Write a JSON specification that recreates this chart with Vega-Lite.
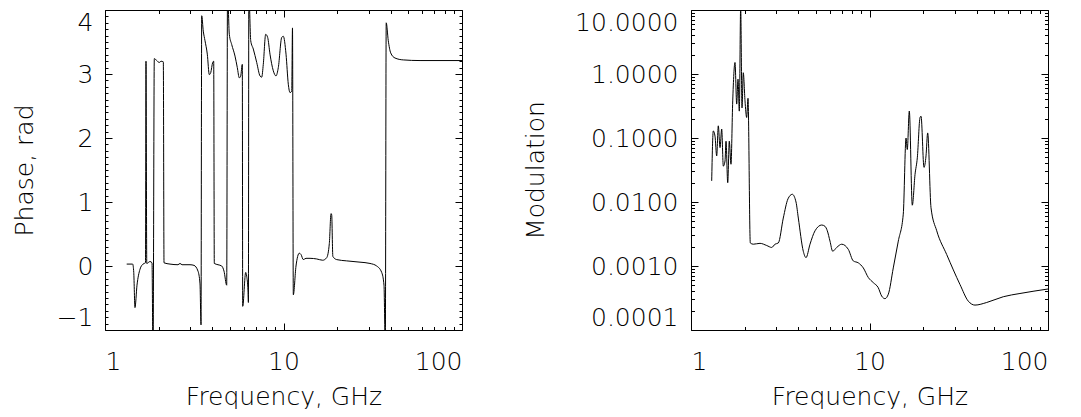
{
  "$schema": "https://vega.github.io/schema/vega-lite/v6.json",
  "padding": {"left": 12, "top": 9, "right": 0, "bottom": 0},
  "bounds": "flush",
  "spacing": 229,
  "datasets": {
    "phase": [
      {"f": 1.323, "p": 0.03}, {"f": 1.429, "p": 0.03}, {"f": 1.449, "p": -0.1}, {"f": 1.472, "p": -0.65},
      {"f": 1.511, "p": -0.3}, {"f": 1.571, "p": -0.05}, {"f": 1.633, "p": 0.03}, {"f": 1.686, "p": 0.05},
      {"f": 1.697, "p": 3.2}, {"f": 1.714, "p": 0.04}, {"f": 1.787, "p": 0.07}, {"f": 1.834, "p": 0.05},
      {"f": 1.858, "p": -1.5}, {"f": 1.889, "p": 3.24}, {"f": 1.949, "p": 3.21}, {"f": 2.015, "p": 3.18},
      {"f": 2.06, "p": 3.2}, {"f": 2.122, "p": 3.19}, {"f": 2.141, "p": 0.05}, {"f": 2.313, "p": 0.03},
      {"f": 2.564, "p": 0.02}, {"f": 2.632, "p": 0.04}, {"f": 2.701, "p": 0.02}, {"f": 2.994, "p": 0.02},
      {"f": 3.152, "p": 0.01}, {"f": 3.319, "p": -0.08}, {"f": 3.406, "p": -0.28}, {"f": 3.451, "p": -0.92},
      {"f": 3.481, "p": 3.91}, {"f": 3.553, "p": 3.67}, {"f": 3.633, "p": 3.52}, {"f": 3.742, "p": 3.31},
      {"f": 3.84, "p": 2.99}, {"f": 3.91, "p": 3.02}, {"f": 4.012, "p": 3.18}, {"f": 4.064, "p": 3.2},
      {"f": 4.096, "p": 0.04}, {"f": 4.296, "p": 0.02}, {"f": 4.507, "p": 0.0}, {"f": 4.642, "p": -0.08},
      {"f": 4.806, "p": -0.3}, {"f": 4.857, "p": 4.3}, {"f": 4.971, "p": 3.62}, {"f": 5.127, "p": 3.46},
      {"f": 5.35, "p": 3.28}, {"f": 5.511, "p": 3.1}, {"f": 5.655, "p": 2.94}, {"f": 5.758, "p": 2.97},
      {"f": 5.878, "p": 3.15}, {"f": 5.908, "p": -0.63}, {"f": 6.141, "p": -0.1}, {"f": 6.22, "p": -0.16},
      {"f": 6.326, "p": -0.39}, {"f": 6.359, "p": -0.57}, {"f": 6.393, "p": 4.3}, {"f": 6.552, "p": 3.52},
      {"f": 6.774, "p": 3.39}, {"f": 7.078, "p": 3.18}, {"f": 7.385, "p": 2.97}, {"f": 7.549, "p": 2.95},
      {"f": 7.705, "p": 3.15}, {"f": 7.948, "p": 3.62}, {"f": 8.155, "p": 3.57}, {"f": 8.401, "p": 3.31},
      {"f": 8.767, "p": 3.05}, {"f": 9.078, "p": 2.97}, {"f": 9.352, "p": 3.1}, {"f": 9.77, "p": 3.57},
      {"f": 9.975, "p": 3.59}, {"f": 10.33, "p": 3.31}, {"f": 10.64, "p": 2.84}, {"f": 10.88, "p": 2.71},
      {"f": 11.12, "p": 2.73}, {"f": 11.23, "p": 3.72}, {"f": 11.35, "p": -0.45}, {"f": 11.75, "p": 0.0},
      {"f": 12.26, "p": 0.2}, {"f": 12.53, "p": 0.18}, {"f": 12.91, "p": 0.1}, {"f": 13.37, "p": 0.12},
      {"f": 14.08, "p": 0.12}, {"f": 15.35, "p": 0.11}, {"f": 16.58, "p": 0.09}, {"f": 17.46, "p": 0.13},
      {"f": 18.06, "p": 0.35}, {"f": 18.46, "p": 0.82}, {"f": 18.62, "p": 0.8}, {"f": 18.9, "p": 0.15},
      {"f": 19.86, "p": 0.1}, {"f": 22.59, "p": 0.08}, {"f": 26.83, "p": 0.06}, {"f": 30.52, "p": 0.04},
      {"f": 33.28, "p": 0.0}, {"f": 35.49, "p": -0.1}, {"f": 36.56, "p": -0.3}, {"f": 37.18, "p": -1.3},
      {"f": 37.62, "p": 3.8}, {"f": 38.64, "p": 3.52}, {"f": 39.86, "p": 3.33}, {"f": 42.13, "p": 3.25},
      {"f": 46.9, "p": 3.22}, {"f": 58.19, "p": 3.21}, {"f": 100, "p": 3.21}
    ],
    "modulation": [
      {"f": 1.306, "m": 0.0214}, {"f": 1.333, "m": 0.129}, {"f": 1.363, "m": 0.107}, {"f": 1.393, "m": 0.0525},
      {"f": 1.422, "m": 0.155}, {"f": 1.454, "m": 0.0708}, {"f": 1.486, "m": 0.138}, {"f": 1.517, "m": 0.0363},
      {"f": 1.551, "m": 0.0437}, {"f": 1.571, "m": 0.0891}, {"f": 1.606, "m": 0.02}, {"f": 1.639, "m": 0.0891},
      {"f": 1.675, "m": 0.0389}, {"f": 1.713, "m": 0.38}, {"f": 1.764, "m": 1.514}, {"f": 1.803, "m": 0.339},
      {"f": 1.834, "m": 0.832}, {"f": 1.865, "m": 0.263}, {"f": 1.898, "m": 11.2}, {"f": 1.931, "m": 0.295},
      {"f": 1.963, "m": 1.047}, {"f": 2.007, "m": 0.38}, {"f": 2.051, "m": 0.209}, {"f": 2.086, "m": 0.417},
      {"f": 2.149, "m": 0.00229}, {"f": 2.234, "m": 0.00219}, {"f": 2.436, "m": 0.00226}, {"f": 2.656, "m": 0.00209},
      {"f": 2.832, "m": 0.00195}, {"f": 2.955, "m": 0.00219}, {"f": 3.084, "m": 0.00229}, {"f": 3.289, "m": 0.00562},
      {"f": 3.494, "m": 0.0112}, {"f": 3.694, "m": 0.0132}, {"f": 3.875, "m": 0.01}, {"f": 3.992, "m": 0.00562},
      {"f": 4.257, "m": 0.0017}, {"f": 4.409, "m": 0.00135}, {"f": 4.642, "m": 0.00219}, {"f": 4.952, "m": 0.00355},
      {"f": 5.398, "m": 0.00437}, {"f": 5.633, "m": 0.00417}, {"f": 5.802, "m": 0.00355}, {"f": 6.007, "m": 0.00245},
      {"f": 6.22, "m": 0.0017}, {"f": 6.55, "m": 0.00195}, {"f": 6.988, "m": 0.00219}, {"f": 7.607, "m": 0.00182},
      {"f": 8.113, "m": 0.0012}, {"f": 8.656, "m": 0.00112}, {"f": 9.233, "m": 0.000933}, {"f": 9.847, "m": 0.000661},
      {"f": 10.5, "m": 0.00055}, {"f": 11.2, "m": 0.000457}, {"f": 11.7, "m": 0.000339}, {"f": 12.21, "m": 0.000309},
      {"f": 12.75, "m": 0.000363}, {"f": 13.59, "m": 0.000933}, {"f": 14.5, "m": 0.00245}, {"f": 15.46, "m": 0.00646},
      {"f": 16.02, "m": 0.1}, {"f": 16.28, "m": 0.0661}, {"f": 16.71, "m": 0.263}, {"f": 17.37, "m": 0.00891},
      {"f": 17.99, "m": 0.0269}, {"f": 18.53, "m": 0.049}, {"f": 19.19, "m": 0.209}, {"f": 19.44, "m": 0.219},
      {"f": 20.2, "m": 0.0347}, {"f": 20.73, "m": 0.0525}, {"f": 21.18, "m": 0.12}, {"f": 22.11, "m": 0.00813},
      {"f": 23.8, "m": 0.00355}, {"f": 27.07, "m": 0.00151}, {"f": 32.14, "m": 0.000513}, {"f": 35.78, "m": 0.000282},
      {"f": 39.0, "m": 0.000245}, {"f": 45.36, "m": 0.000269}, {"f": 56.17, "m": 0.000331}, {"f": 69.66, "m": 0.000372},
      {"f": 100, "m": 0.000437}
    ]
  },
  "hconcat": [
    {
      "width": 357,
      "height": 320,
      "data": {"name": "phase"},
      "resolve": {"axis": {"x": "independent", "y": "independent"}},
      "layer": [
        {
          "mark": {"type": "line", "color": "#000", "strokeWidth": 1, "clip": true, "interpolate": "monotone"},
          "encoding": {
            "x": {"field": "f", "type": "quantitative",
                  "scale": {"type": "log", "domain": [1, 100], "nice": false},
                  "axis": {"orient": "bottom", "values": [1, 10, 100], "format": "d", "tickSize": -7,
                           "labelPadding": 46, "labelBaseline": "alphabetic",
                           "title": "Frequency, GHz", "titleX": 178.5, "titleY": 74, "titleBaseline": "alphabetic"}},
            "y": {"field": "p", "type": "quantitative",
                  "scale": {"domain": [-1, 4], "nice": false, "zero": false},
                  "axis": {"orient": "left", "values": [-1, 0, 1, 2, 3, 4], "format": "d", "tickSize": -7,
                           "labelPadding": 19, "labelFlush": true,
                           "title": "Phase, rad", "titleX": -73, "titleY": 160, "titleAngle": -90, "titleBaseline": "alphabetic"}}
          }
        },
        {
          "mark": {"type": "line", "strokeOpacity": 0, "clip": true},
          "encoding": {
            "x": {"field": "f", "type": "quantitative",
                  "scale": {"type": "log", "domain": [1, 100], "nice": false},
                  "axis": {"orient": "bottom", "values": [2, 3, 4, 5, 6, 7, 8, 9, 20, 30, 40, 50, 60, 70, 80, 90],
                           "tickSize": -3.5, "labels": false, "domain": false, "title": null}},
            "y": {"field": "p", "type": "quantitative",
                  "scale": {"domain": [-1, 4], "nice": false, "zero": false},
                  "axis": {"orient": "left", "values": [-0.9, -0.8, -0.7, -0.6, -0.5, -0.4, -0.3, -0.2, -0.1, 0.1, 0.2, 0.3, 0.4, 0.5, 0.6, 0.7, 0.8, 0.9, 1.1, 1.2, 1.3, 1.4, 1.5, 1.6, 1.7, 1.8, 1.9, 2.1, 2.2, 2.3, 2.4, 2.5, 2.6, 2.7, 2.8, 2.9, 3.1, 3.2, 3.3, 3.4, 3.5, 3.6, 3.7, 3.8, 3.9],
                           "tickSize": -3, "labels": false, "domain": false, "title": null}}
          }
        },
        {
          "mark": {"type": "line", "strokeOpacity": 0, "clip": true},
          "encoding": {
            "x": {"field": "f", "type": "quantitative",
                  "scale": {"type": "log", "domain": [1, 100], "nice": false},
                  "axis": {"orient": "top", "values": [1, 10, 100], "tickSize": -7, "labels": false, "title": null}},
            "y": {"field": "p", "type": "quantitative",
                  "scale": {"domain": [-1, 4], "nice": false, "zero": false},
                  "axis": {"orient": "right", "values": [-1, 0, 1, 2, 3, 4], "tickSize": -7, "labels": false, "title": null}}
          }
        },
        {
          "mark": {"type": "line", "strokeOpacity": 0, "clip": true},
          "encoding": {
            "x": {"field": "f", "type": "quantitative",
                  "scale": {"type": "log", "domain": [1, 100], "nice": false},
                  "axis": {"orient": "top", "values": [2, 3, 4, 5, 6, 7, 8, 9, 20, 30, 40, 50, 60, 70, 80, 90],
                           "tickSize": -3.5, "labels": false, "domain": false, "title": null}},
            "y": {"field": "p", "type": "quantitative",
                  "scale": {"domain": [-1, 4], "nice": false, "zero": false},
                  "axis": {"orient": "right", "values": [-0.9, -0.8, -0.7, -0.6, -0.5, -0.4, -0.3, -0.2, -0.1, 0.1, 0.2, 0.3, 0.4, 0.5, 0.6, 0.7, 0.8, 0.9, 1.1, 1.2, 1.3, 1.4, 1.5, 1.6, 1.7, 1.8, 1.9, 2.1, 2.2, 2.3, 2.4, 2.5, 2.6, 2.7, 2.8, 2.9, 3.1, 3.2, 3.3, 3.4, 3.5, 3.6, 3.7, 3.8, 3.9],
                           "tickSize": -3, "labels": false, "domain": false, "title": null}}
          }
        }
      ]
    },
    {
      "width": 357,
      "height": 320,
      "data": {"name": "modulation"},
      "resolve": {"axis": {"x": "independent", "y": "independent"}},
      "layer": [
        {
          "mark": {"type": "line", "color": "#000", "strokeWidth": 1, "clip": true, "interpolate": "monotone"},
          "encoding": {
            "x": {"field": "f", "type": "quantitative",
                  "scale": {"type": "log", "domain": [1, 100], "nice": false},
                  "axis": {"orient": "bottom", "values": [1, 10, 100], "format": "d", "tickSize": -7,
                           "labelPadding": 46, "labelBaseline": "alphabetic",
                           "title": "Frequency, GHz", "titleX": 178.5, "titleY": 74, "titleBaseline": "alphabetic"}},
            "y": {"field": "m", "type": "quantitative",
                  "scale": {"type": "log", "domain": [0.0001, 10], "nice": false},
                  "axis": {"orient": "left", "values": [0.0001, 0.001, 0.01, 0.1, 1, 10], "format": ".4f", "tickSize": -7,
                           "labelPadding": 20, "labelFlush": true,
                           "title": "Modulation", "titleX": -148, "titleY": 160, "titleAngle": -90, "titleBaseline": "alphabetic"}}
          }
        },
        {
          "mark": {"type": "line", "strokeOpacity": 0, "clip": true},
          "encoding": {
            "x": {"field": "f", "type": "quantitative",
                  "scale": {"type": "log", "domain": [1, 100], "nice": false},
                  "axis": {"orient": "bottom", "values": [2, 3, 4, 5, 6, 7, 8, 9, 20, 30, 40, 50, 60, 70, 80, 90],
                           "tickSize": -3.5, "labels": false, "domain": false, "title": null}},
            "y": {"field": "m", "type": "quantitative",
                  "scale": {"type": "log", "domain": [0.0001, 10], "nice": false},
                  "axis": {"orient": "left", "values": [0.0002, 0.0003, 0.0004, 0.0005, 0.0006, 0.0007, 0.0008, 0.0009, 0.002, 0.003, 0.004, 0.005, 0.006, 0.007, 0.008, 0.009, 0.02, 0.03, 0.04, 0.05, 0.06, 0.07, 0.08, 0.09, 0.2, 0.3, 0.4, 0.5, 0.6, 0.7, 0.8, 0.9, 2, 3, 4, 5, 6, 7, 8, 9],
                           "tickSize": -3.5, "labels": false, "domain": false, "title": null}}
          }
        },
        {
          "mark": {"type": "line", "strokeOpacity": 0, "clip": true},
          "encoding": {
            "x": {"field": "f", "type": "quantitative",
                  "scale": {"type": "log", "domain": [1, 100], "nice": false},
                  "axis": {"orient": "top", "values": [1, 10, 100], "tickSize": -7, "labels": false, "title": null}},
            "y": {"field": "m", "type": "quantitative",
                  "scale": {"type": "log", "domain": [0.0001, 10], "nice": false},
                  "axis": {"orient": "right", "values": [0.0001, 0.001, 0.01, 0.1, 1, 10], "tickSize": -7, "labels": false, "title": null}}
          }
        },
        {
          "mark": {"type": "line", "strokeOpacity": 0, "clip": true},
          "encoding": {
            "x": {"field": "f", "type": "quantitative",
                  "scale": {"type": "log", "domain": [1, 100], "nice": false},
                  "axis": {"orient": "top", "values": [2, 3, 4, 5, 6, 7, 8, 9, 20, 30, 40, 50, 60, 70, 80, 90],
                           "tickSize": -3.5, "labels": false, "domain": false, "title": null}},
            "y": {"field": "m", "type": "quantitative",
                  "scale": {"type": "log", "domain": [0.0001, 10], "nice": false},
                  "axis": {"orient": "right", "values": [0.0002, 0.0003, 0.0004, 0.0005, 0.0006, 0.0007, 0.0008, 0.0009, 0.002, 0.003, 0.004, 0.005, 0.006, 0.007, 0.008, 0.009, 0.02, 0.03, 0.04, 0.05, 0.06, 0.07, 0.08, 0.09, 0.2, 0.3, 0.4, 0.5, 0.6, 0.7, 0.8, 0.9, 2, 3, 4, 5, 6, 7, 8, 9],
                           "tickSize": -3.5, "labels": false, "domain": false, "title": null}}
          }
        }
      ]
    }
  ],
  "config": {
    "view": {"stroke": null},
    "axis": {
      "grid": false,
      "labelFont": "DejaVu Sans", "labelFontSize": 25, "labelFontWeight": 200, "labelColor": "#000",
      "titleFont": "DejaVu Sans", "titleFontSize": 25, "titleFontWeight": 200, "titleColor": "#000",
      "tickColor": "#000", "tickWidth": 1, "domainColor": "#000", "domainWidth": 1
    }
  }
}
